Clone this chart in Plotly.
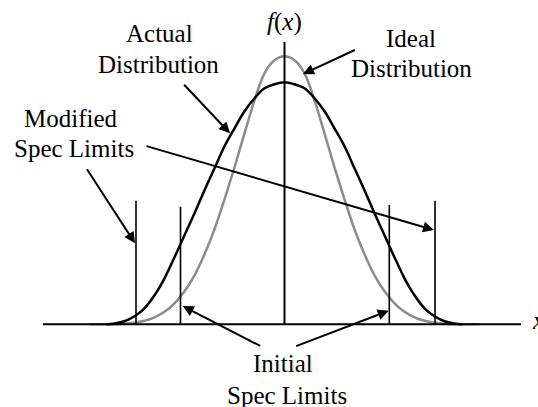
import plotly.graph_objects as go

# ---- data (x measured from the centre line, f(x) measured above the x axis) ----
actual_x = [-178, -170, -160, -150, -140, -130, -120, -110, -100, -90, -80, -70, -60,
            -50, -40, -30, -20, -10, 0, 10, 20, 30, 40, 50, 60, 70, 80, 90, 100,
            110, 120, 130, 140, 150, 160, 170, 178]
actual_f = [0, 0.8, 3, 8, 16, 29, 46, 67, 89, 111, 134, 156, 178,
            196, 213, 226, 236, 240, 242, 240, 236, 226, 213, 196, 178, 156, 134, 111, 89,
            67, 46, 29, 16, 8, 3, 0.8, 0]

ideal_x = [-195, -165, -150, -140, -130, -120, -110, -100, -90, -80, -70, -60, -50,
           -40, -30, -20, -10, 0, 10, 20, 30, 40, 50, 60, 70, 80, 90, 100, 110, 120,
           130, 140, 150, 165, 195]
ideal_f = [0, 0.3, 1.5, 3.5, 7, 12.5, 21, 33, 49, 70, 95, 125, 157,
           191, 224, 251, 264, 268, 264, 251, 224, 191, 157, 125, 95, 70, 49, 33, 21, 12.5,
           7, 3.5, 1.5, 0.3, 0]

initial_spec_x = [-104, 104.8]
initial_spec_h = [117.6, 119.3]
modified_spec_x = [-148.5, 150.5]
modified_spec_h = [123.6, 123.6]

x_axis_span = [-241.5, 236.5]
f_axis_top = 282.3

FONT = "Liberation Serif, Times New Roman, serif"
FS = 25
GRAY = "#8c8c8c"

fig = go.Figure()

# curves
fig.add_trace(go.Scatter(x=ideal_x, y=ideal_f, mode="lines",
                         line=dict(color=GRAY, width=2.5, shape="spline", smoothing=1),
                         hoverinfo="skip"))
fig.add_trace(go.Scatter(x=actual_x, y=actual_f, mode="lines",
                         line=dict(color="black", width=2.5, shape="spline", smoothing=1),
                         hoverinfo="skip"))

# spec limit lines
for xs, hs in ((initial_spec_x, initial_spec_h), (modified_spec_x, modified_spec_h)):
    for xv, hv in zip(xs, hs):
        fig.add_trace(go.Scatter(x=[xv, xv], y=[0, hv], mode="lines",
                                 line=dict(color="black", width=1.6), hoverinfo="skip"))

# axes
fig.add_trace(go.Scatter(x=x_axis_span, y=[0, 0], mode="lines",
                         line=dict(color="black", width=2), hoverinfo="skip"))
fig.add_trace(go.Scatter(x=[0, 0], y=[0, f_axis_top], mode="lines",
                         line=dict(color="black", width=2), hoverinfo="skip"))

annotations = []

def label(text, x, y, xanchor="center"):
    annotations.append(dict(x=x, y=y, xref="x", yref="y", text=text, showarrow=False,
                            xanchor=xanchor, yanchor="middle",
                            font=dict(family=FONT, size=FS, color="black")))

def arrow(tail, tip):
    annotations.append(dict(x=tip[0], y=tip[1], ax=tail[0], ay=tail[1],
                            xref="x", yref="y", axref="x", ayref="y", text="",
                            showarrow=True, arrowhead=2, arrowsize=1.1, arrowwidth=2,
                            arrowcolor="black", standoff=0, startstandoff=0))

label("Actual", -125.5, 290.5)
label("Distribution", -126, 259.5)
label("Modified", -213.7, 206.1)
label("Spec Limits", -210.3, 176.1)
label("Ideal", 126.5, 286.1)
label("Distribution", 126.5, 255.5)
label("Initial", -1.5, -38.9)
label("Spec Limits", 2, -71.2)
label("<i>f</i>(<i>x</i>)", -0.5, 302.8)
label("<i>x</i>", 245.5, 3.8, xanchor="left")

arrow((-101.8, 241), (-54.5, 191))
arrow((-139.5, 178.6), (149.5, 94.3))
arrow((-198.5, 156.6), (-149.5, 81))
arrow((71.8, 275), (18.5, 250.3))
arrow((-22.8, -22.4), (-101.8, 18.3))
arrow((10.2, -22.4), (104.2, 13.6))

fig.update_layout(
    width=538, height=407,
    margin=dict(l=0, r=0, t=0, b=0),
    paper_bgcolor="white", plot_bgcolor="white",
    showlegend=False,
    xaxis=dict(visible=False, range=[-284.5, 253.5], fixedrange=True),
    yaxis=dict(visible=False, range=[-82.7, 324.3], fixedrange=True),
    annotations=annotations,
)

fig.write_html("out.html", config={"displayModeBar": False},
               post_script="document.body.style.margin='0';document.body.style.overflow='hidden';")
